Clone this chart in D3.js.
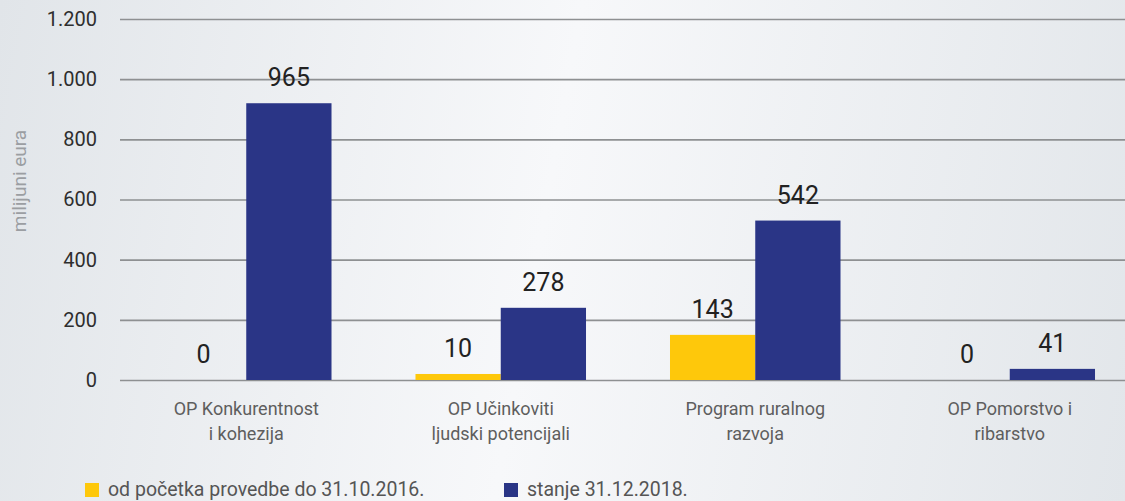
<!DOCTYPE html>
<html>
<head>
<meta charset="utf-8">
<script src="https://cdn.jsdelivr.net/npm/d3@7"></script>
<style>
  html, body { margin: 0; padding: 0; }
  body {
    width: 1125px; height: 501px; overflow: hidden;
    background: linear-gradient(100deg, #e1e5e9 0%, #f7f8fa 48%, #e2e6ea 100%);
    font-family: Roboto, "Noto Sans", sans-serif;
  }
</style>
</head>
<body>
<div id="chart"></div>
<script>
// categories (two lines each)
var categories = [
    ["OP Konkurentnost", "i kohezija"],
    ["OP Učinkoviti", "ljudski potencijali"],
    ["Program ruralnog", "razvoja"],
    ["OP Pomorstvo i", "ribarstvo"]
];
var seriesNames = ["od početka provedbe do 31.10.2016.", "stanje 31.12.2018."];
var seriesColors = ["#fec80b", "#2a3586"];

// bar heights as drawn in the picture
var values2016 = [0, 20, 150, 0];
var values2018 = [920, 240, 530, 37];
// value labels as printed above the bars
var labels2016 = ["0", "10", "143", "0"];
var labels2018 = ["965", "278", "542", "41"];

var yTicks = [0, 200, 400, 600, 800, 1000, 1200];
var yTitle = "milijuni eura";

var width = 1125,
    height = 501;

var svg = d3.select("#chart")
    .append("svg")
    .attr("width", width)
    .attr("height", height);

/**
 * Scales
 */
var x0 = d3.scaleBand()
    .domain(d3.range(categories.length))
    .range([119, 1137])
    .paddingInner(0.33)
    .paddingOuter(0.165);

var x1 = d3.scaleBand()
    .domain([0, 1])
    .range([0, x0.bandwidth()]);

var y = d3.scaleLinear()
    .domain([0, 1200])
    .range([380, 19]);

var fmt = function (d) { return d3.format(",")(d).replace(/,/g, "."); };

/**
 * Grid lines + y tick labels
 */
var yAxis = svg.append("g")
    .attr("transform", "translate(120,0)")
    .call(d3.axisLeft(y).tickValues(yTicks).tickSize(-(width - 120)).tickPadding(23).tickFormat(fmt));

yAxis.select(".domain").remove();
yAxis.selectAll(".tick line")
    .attr("stroke", "#8e9092")
    .attr("stroke-width", 1.6);
yAxis.selectAll(".tick text")
    .attr("fill", "#2e2e2e")
    .style("font-size", "20px")
    .style("font-family", "Roboto, sans-serif");

// axis title
svg.append("text")
    .attr("transform", "translate(26,181) rotate(-90)")
    .attr("text-anchor", "middle")
    .attr("fill", "#9b9ea2")
    .style("font-size", "19px")
    .text(yTitle);

/**
 * Bars
 */
var rows = categories.map(function (c, i) {
    return [
        { i: i, s: 0, v: values2016[i], label: labels2016[i] },
        { i: i, s: 1, v: values2018[i], label: labels2018[i] }
    ];
});

var groups = svg.selectAll("g.group")
    .data(rows)
    .enter()
    .append("g")
    .attr("class", "group")
    .attr("transform", function (d, i) { return "translate(" + x0(i) + ",0)"; });

groups.selectAll("rect")
    .data(function (d) { return d; })
    .enter()
    .append("rect")
    .attr("x", function (d) { return x1(d.s); })
    .attr("width", x1.bandwidth())
    .attr("y", function (d) { return y(d.v); })
    .attr("height", function (d) { return y(0) - y(d.v); })
    .attr("fill", function (d) { return seriesColors[d.s]; });

groups.selectAll("text.val")
    .data(function (d) { return d; })
    .enter()
    .append("text")
    .attr("class", "val")
    .attr("x", function (d) { return x1(d.s) + x1.bandwidth() / 2; })
    .attr("y", function (d) { return y(d.v) - 17; })
    .attr("text-anchor", "middle")
    .attr("fill", "#222")
    .style("font-size", "25px")
    .text(function (d) { return d.label; });

/**
 * Category labels
 */
var catText = svg.selectAll("text.cat")
    .data(categories)
    .enter()
    .append("text")
    .attr("class", "cat")
    .attr("text-anchor", "middle")
    .attr("fill", "#5e5e5e")
    .style("font-size", "18px");

catText.each(function (d, i) {
    var t = d3.select(this);
    d.forEach(function (line, k) {
        t.append("tspan")
            .attr("x", x0(i) + x0.bandwidth() / 2)
            .attr("y", 415 + k * 25)
            .text(line);
    });
});

/**
 * Legend
 */
var legendX = [85, 504];
var legend = svg.selectAll("g.legend")
    .data(seriesNames)
    .enter()
    .append("g")
    .attr("class", "legend")
    .attr("transform", function (d, i) { return "translate(" + legendX[i] + ",483)"; });

legend.append("rect")
    .attr("width", 14)
    .attr("height", 14)
    .attr("fill", function (d, i) { return seriesColors[i]; });

legend.append("text")
    .attr("x", 23)
    .attr("y", 13)
    .attr("fill", "#555")
    .style("font-size", "19.5px")
    .text(function (d) { return d; });
</script>
</body>
</html>
